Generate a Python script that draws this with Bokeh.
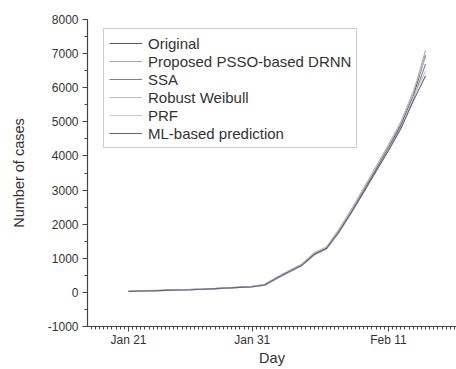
import numpy as np
from bokeh.plotting import figure
from bokeh.models import FixedTicker, Legend, LegendItem, Range1d
from bokeh.embed import file_html
from bokeh.resources import INLINE

# Days counted from Jan 21
days = list(range(0, 25))

original = [30, 40, 50, 60, 70, 80, 95, 110, 130, 150, 170, 220, 430, 620, 800,
            1130, 1300, 1800, 2380, 3000, 3620, 4250, 4900, 5750, 6950]
pssodrnn = [35, 42, 52, 62, 72, 84, 98, 115, 135, 155, 180, 240, 450, 640, 830,
            1160, 1330, 1850, 2430, 3060, 3680, 4320, 4980, 5820, 7100]
ssa = [25, 38, 48, 58, 68, 78, 92, 108, 126, 146, 168, 210, 410, 600, 790,
       1100, 1280, 1760, 2340, 2950, 3570, 4200, 4850, 5650, 6700]
weibull = [40, 48, 58, 66, 76, 88, 100, 118, 138, 158, 178, 230, 440, 630, 820,
           1150, 1320, 1830, 2410, 3040, 3670, 4310, 5000, 5900, 6900]
prf = [20, 35, 45, 55, 65, 76, 90, 105, 124, 144, 165, 205, 400, 590, 780,
       1090, 1270, 1750, 2320, 2930, 3550, 4180, 4820, 5700, 6500]
ml_pred = [28, 39, 49, 59, 69, 79, 93, 109, 128, 148, 166, 215, 420, 610, 790,
           1110, 1290, 1770, 2340, 2940, 3550, 4150, 4800, 5600, 6350]

series_names = ["Original", "Proposed PSSO-based DRNN", "SSA", "Robust Weibull",
                "PRF", "ML-based prediction"]
series_values = [original, pssodrnn, ssa, weibull, prf, ml_pred]
series_colors = ["#555555", "#a8a8b0", "#808088", "#bcbcc4", "#cacad2", "#62627a"]

x_tick_days = [0, 10, 21]
x_tick_labels = ["Jan 21", "Jan 31", "Feb 11"]
y_ticks = list(range(-1000, 8001, 1000))

text_color = "#333333"
font = "Liberation Sans"

p = figure(width=456, height=369, output_backend="svg", toolbar_location=None,
           x_range=Range1d(-3.31, 26.5), y_range=Range1d(-1000, 8000),
           min_border_left=87, min_border_right=0, min_border_top=19,
           min_border_bottom=43)
p.outline_line_color = None
p.xgrid.grid_line_color = None
p.ygrid.grid_line_color = None
p.background_fill_color = "white"
p.border_fill_color = "white"

renderers = []
for vals, col in zip(series_values, series_colors):
    r = p.line(days, vals, line_color=col, line_width=1.1)
    renderers.append(r)

# axes
xa = p.xaxis[0]
xa.ticker = FixedTicker(ticks=x_tick_days,
                        minor_ticks=list(np.arange(-3.0, 26.5, 1 / 3)))
xa.major_label_overrides = {d: lab for d, lab in zip(x_tick_days, x_tick_labels)}
xa.axis_label = "Day"

ya = p.yaxis[0]
ya.ticker = FixedTicker(ticks=y_ticks, minor_ticks=list(range(-1000, 8001, 500)))
ya.major_label_overrides = {t: str(t) for t in y_ticks}
ya.axis_label = "Number of cases"

for ax in (xa, ya):
    ax.axis_line_color = "#444444"
    ax.axis_line_width = 1.2
    ax.major_tick_line_color = "#444444"
    ax.minor_tick_line_color = "#444444"
    ax.major_tick_in = 0
    ax.minor_tick_in = 0
    ax.major_tick_out = 5
    ax.minor_tick_out = 3
    ax.major_label_text_font = font
    ax.major_label_text_font_size = "12px"
    ax.major_label_text_color = text_color
    ax.axis_label_text_font = font
    ax.axis_label_text_font_size = "14.5px"
    ax.axis_label_text_font_style = "normal"
    ax.axis_label_text_color = text_color

xa.major_label_standoff = 1
xa.axis_label_standoff = 0
ya.major_label_standoff = 4
ya.axis_label_standoff = 18

legend = Legend(
    items=[LegendItem(label=n, renderers=[r]) for n, r in zip(series_names, renderers)],
    location=(16, 178), margin=0, padding=5, spacing=0,
    glyph_width=33, glyph_height=18, label_height=18, label_standoff=6,
    label_text_font=font, label_text_font_size="15px", label_text_color=text_color,
    border_line_color="#9a9a9a", border_line_width=1,
    background_fill_color="white", background_fill_alpha=1.0,
)
p.add_layout(legend, "center")

open("out.html", "w").write(file_html(p, INLINE))
